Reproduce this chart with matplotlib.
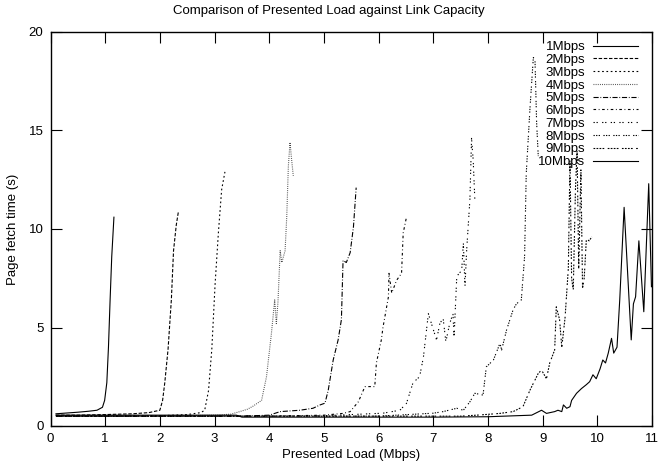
import matplotlib
matplotlib.use("Agg")
import matplotlib.pyplot as plt

plt.rcParams['font.family'] = ['Liberation Sans', 'DejaVu Sans']
plt.rcParams['lines.scale_dashes'] = False

# ---- data ----
labels = ["1Mbps", "2Mbps", "3Mbps", "4Mbps", "5Mbps", "6Mbps", "7Mbps", "8Mbps", "9Mbps", "10Mbps"]

x1 = [0.1, 0.3, 0.5, 0.7, 0.85, 0.95, 0.99, 1.03, 1.06, 1.09, 1.12, 1.16]
y1 = [0.62, 0.66, 0.7, 0.75, 0.8, 0.95, 1.3, 2.2, 4.0, 6.4, 8.6, 10.6]

x2 = [0.1, 0.5, 1.0, 1.5, 1.8, 2.0, 2.05, 2.09, 2.15, 2.21, 2.25, 2.3, 2.34]
y2 = [0.55, 0.55, 0.58, 0.62, 0.68, 0.8, 1.3, 2.2, 3.9, 6.4, 8.9, 10.2, 10.9]

x3 = [0.1, 1.0, 2.0, 2.5, 2.75, 2.82, 2.89, 2.95, 3.01, 3.07, 3.13, 3.19]
y3 = [0.5, 0.5, 0.52, 0.58, 0.68, 0.8, 1.8, 3.9, 7.2, 9.8, 12.0, 12.9]

x4 = [0.1, 1, 2, 3, 3.3, 3.46, 3.6, 3.7, 3.86, 3.95, 4.04, 4.1, 4.13, 4.16, 4.2, 4.23,
      4.29, 4.32, 4.35, 4.38, 4.41, 4.44]
y4 = [0.5, 0.5, 0.5, 0.55, 0.6, 0.73, 0.85, 1.0, 1.3, 2.5, 4.7, 6.4, 5.2, 6.3, 8.9, 8.3,
      8.9, 10.6, 13.2, 14.4, 13.5, 12.7]

x5 = [0.1, 1, 2, 3, 3.5, 4.0, 4.2, 4.56, 4.8, 4.93, 5.02, 5.08, 5.17, 5.26, 5.32, 5.35,
      5.41, 5.48, 5.54, 5.59]
y5 = [0.5, 0.5, 0.5, 0.5, 0.5, 0.55, 0.73, 0.8, 0.9, 1.07, 1.16, 1.83, 3.35, 4.37, 5.4, 8.4,
      8.3, 8.8, 10.1, 12.1]

x6 = [0.1, 1, 2, 3, 4, 5, 5.35, 5.48, 5.63, 5.75, 5.93, 5.96, 6.05, 6.08, 6.18, 6.19,
      6.24, 6.33, 6.42, 6.45, 6.51]
y6 = [0.5, 0.5, 0.5, 0.5, 0.5, 0.55, 0.64, 0.73, 1.23, 2.0, 2.0, 3.2, 4.37, 5.0, 6.56, 7.75,
      6.75, 7.4, 7.75, 9.8, 10.6]

x7 = [0.1, 2, 4, 5, 6.08, 6.39, 6.51, 6.63, 6.75, 6.82, 6.91, 7.0, 7.06, 7.12, 7.18, 7.23,
      7.3, 7.36, 7.38, 7.43, 7.52, 7.55, 7.58, 7.61, 7.67, 7.7, 7.73, 7.76]
y7 = [0.5, 0.5, 0.5, 0.52, 0.65, 0.8, 1.15, 2.2, 2.5, 3.5, 5.7, 4.9, 4.37, 5.2, 5.47, 4.28,
      5.2, 5.7, 4.5, 7.6, 7.9, 9.3, 7.1, 8.9, 11.5, 14.6, 13.5, 11.5]

x8 = [0.1, 2, 4, 6, 7.0, 7.18, 7.43, 7.55, 7.67, 7.76, 7.91, 7.97, 8.1, 8.22, 8.25, 8.34,
      8.46, 8.52, 8.61, 8.67, 8.7, 8.77, 8.83, 8.86, 8.89, 8.92]
y8 = [0.5, 0.5, 0.5, 0.5, 0.65, 0.73, 0.9, 0.8, 1.23, 1.66, 1.57, 3.0, 3.35, 4.2, 3.86, 4.87,
      5.9, 6.2, 6.4, 8.6, 12.8, 16.2, 18.7, 18.6, 15.4, 13.7]

x9 = [0.1, 2, 4, 6, 7.5, 7.85, 8.22, 8.46, 8.64, 8.77, 8.92, 8.98, 9.07, 9.13, 9.22, 9.25,
      9.31, 9.35, 9.41, 9.47, 9.5, 9.53, 9.56, 9.6, 9.63, 9.66, 9.7, 9.73, 9.76, 9.8, 9.85, 9.9]
y9 = [0.5, 0.5, 0.5, 0.5, 0.5, 0.56, 0.64, 0.73, 0.98, 1.83, 2.67, 2.84, 2.4, 3.2, 3.86, 6.05,
      5.4, 4.0, 5.5, 8.0, 13.5, 7.5, 6.9, 12.0, 14.0, 8.0, 13.0, 7.0, 7.5, 9.5, 9.4, 9.6]

x10 = [0.1, 1, 2, 3, 3.4, 3.5, 5, 7, 8, 8.8, 8.98, 9.07, 9.22, 9.28, 9.35, 9.38, 9.44, 9.5,
       9.53, 9.62, 9.71, 9.8, 9.86, 9.92, 9.98, 10.05, 10.1, 10.15, 10.2, 10.26, 10.3, 10.36,
       10.41, 10.49, 10.62, 10.66, 10.7, 10.76, 10.85, 10.94, 10.99]
y10 = [0.55, 0.55, 0.55, 0.55, 0.55, 0.45, 0.45, 0.45, 0.47, 0.55, 0.8, 0.64, 0.73, 0.8, 0.73,
       1.07, 0.9, 0.98, 1.3, 1.66, 1.9, 2.1, 2.25, 2.6, 2.4, 2.9, 3.35, 3.2, 3.7, 4.45, 3.7, 4.0,
       6.4, 11.1, 4.37, 6.2, 6.56, 9.4, 5.8, 12.3, 7.07]

xs = [x1, x2, x3, x4, x5, x6, x7, x8, x9, x10]
ys = [y1, y2, y3, y4, y5, y6, y7, y8, y9, y10]

xticks = list(range(0, 12))
yticks = [0, 5, 10, 15, 20]

# gnuplot-like dash patterns
u = 0.62
patterns = [None, [4, 2], [2, 3], [1, 1.5], [6, 2, 1, 2], [3, 3, 1, 3], [1.5, 2, 1.5, 5],
            [1.5, 1.5, 1.5, 1.5, 1.5, 4], [2, 1.5, 2, 1.5, 2, 1.5, 2, 4], None]
colors = ['black', 'black', 'black', '#444444', 'black', 'black', 'black', 'black',
          'black', 'black']

fig = plt.figure(figsize=(6.58, 4.68), dpi=100)
ax = fig.add_axes([50.5 / 658, 1 - 426 / 468, (652 - 50.5) / 658, (426 - 32) / 468])

for x, y, lab, pat, c in zip(xs, ys, labels, patterns, colors):
    line, = ax.plot(x, y, color=c, lw=0.8, label=lab)
    if pat is not None:
        line.set_dashes([p * u for p in pat])

ax.set_xlim(0, 11)
ax.set_ylim(0, 20)
ax.set_xticks(xticks)
ax.set_yticks(yticks)
ax.tick_params(direction='in', length=8, width=0.8, top=True, right=True,
               labelsize=9.5, pad=5)
for s in ax.spines.values():
    s.set_linewidth(1.0)

leg = ax.legend(loc='upper right', bbox_to_anchor=(0.977, 0.977), frameon=False,
                markerfirst=False, fontsize=9.5, handlelength=3.4, handletextpad=0.6,
                labelspacing=0.04, borderpad=0, borderaxespad=0)

fig.text(329 / 658, 1 - 11 / 468, "Comparison of Presented Load against Link Capacity",
         ha='center', va='center', fontsize=9.5)
fig.text(351 / 658, 1 - 455 / 468, "Presented Load (Mbps)", ha='center', va='center',
         fontsize=9.5)
fig.text(13 / 658, 1 - 229 / 468, "Page fetch time (s)", ha='center', va='center',
         rotation=90, fontsize=9.5)

fig.savefig("out.png", dpi=100)
